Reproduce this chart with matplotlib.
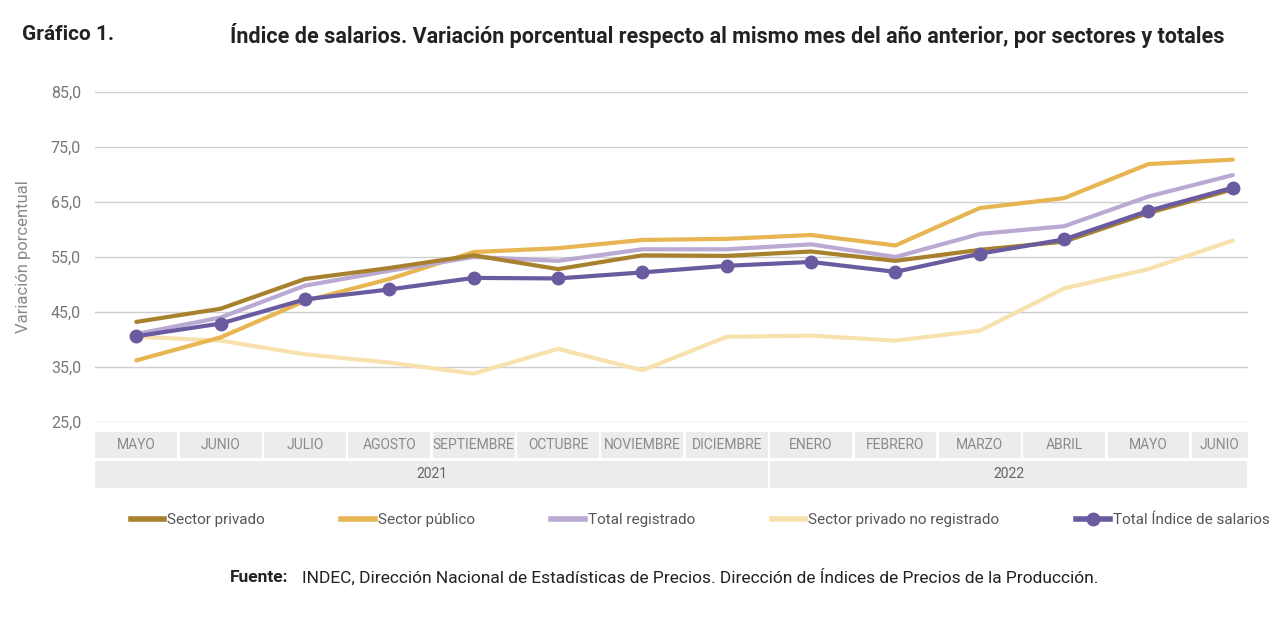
import matplotlib
matplotlib.use("Agg")
import matplotlib.pyplot as plt
from matplotlib.patches import Rectangle
from matplotlib.lines import Line2D

plt.rcParams['font.family'] = ['Roboto', 'DejaVu Sans']

months = ["MAYO","JUNIO","JULIO","AGOSTO","SEPTIEMBRE","OCTUBRE","NOVIEMBRE","DICIEMBRE",
          "ENERO","FEBRERO","MARZO","ABRIL","MAYO","JUNIO"]
years = ["2021", "2022"]
privado = [43.2,45.6,51.0,53.0,55.3,52.8,55.3,55.2,56.0,54.3,56.3,57.8,63.0,67.3]
publico = [36.2,40.4,47.0,51.0,55.9,56.6,58.1,58.3,59.0,57.1,63.9,65.7,71.9,72.7]
registrado = [41.0,44.0,49.8,52.5,55.0,54.3,56.4,56.4,57.3,55.0,59.2,60.6,66.0,69.9]
no_registrado = [40.5,39.8,37.3,35.8,33.8,38.3,34.4,40.5,40.7,39.8,41.6,49.3,52.8,58.0]
total = [40.6,42.9,47.3,49.1,51.2,51.1,52.2,53.4,54.1,52.3,55.6,58.2,63.4,67.6]

c_priv, c_pub, c_reg, c_nr, c_tot = "#a8812e", "#e7b552", "#b9a9d3", "#f7e2ad", "#6a5a9f"

fig = plt.figure(figsize=(12.8, 6.23), dpi=100)
ax = fig.add_axes([95/1280, 1-422/623, (1248-95)/1280, (422-92)/623])
x = list(range(len(months)))
XR = 13.18
ax.set_xlim(-0.49, XR)
ax.set_ylim(25, 85)
ax.set_yticks([25,35,45,55,65,75,85])
ax.set_yticklabels([f"{v},0" for v in [25,35,45,55,65,75,85]], color="#777777", fontsize=11.5)
ax.tick_params(axis='y', length=0, pad=10)
ax.set_xticks([])
ax.grid(axis='y', color="#cfcfcf", lw=1)
for s in ax.spines.values():
    s.set_visible(False)
ax.set_ylabel("Variación porcentual", color="#888888", fontsize=12, labelpad=14)

kw = dict(lw=3, clip_on=False, solid_capstyle='round')
ax.plot(x, no_registrado, color=c_nr, **kw)
ax.plot(x, publico, color=c_pub, **kw)
ax.plot(x, registrado, color=c_reg, **kw)
ax.plot(x, privado, color=c_priv, **kw)
ax.plot(x, total, color=c_tot, marker='o', ms=9, **kw)

tr = ax.get_xaxis_transform()
def ay(py):
    return (422 - py) / (422 - 92)
for i, m in enumerate(months):
    x0, x1 = i - 0.5 + 0.015, min(i + 0.5 - 0.015, XR)
    y0, y1 = ay(458), ay(432)
    ax.add_patch(Rectangle((x0, y0), x1 - x0, y1 - y0, transform=tr, color="#ececec", clip_on=False, lw=0))
    ax.text(min(i, (x0 + x1) / 2 + 0.0), (y0 + y1) / 2, m, transform=tr, ha='center', va='center',
            fontsize=10, color="#8a8a8a", clip_on=False)
for (a, b), yl in zip([(-0.5, 7.5), (7.5, XR)], years):
    x0, x1 = a + 0.015, b - 0.015
    y0, y1 = ay(488), ay(461)
    ax.add_patch(Rectangle((x0, y0), x1 - x0, y1 - y0, transform=tr, color="#ececec", clip_on=False, lw=0))
    ax.text((a + b) / 2, (y0 + y1) / 2, yl, transform=tr, ha='center', va='center', fontsize=10, color="#666666")

handles = [Line2D([], [], color=c_priv, lw=4), Line2D([], [], color=c_pub, lw=4),
           Line2D([], [], color=c_reg, lw=4), Line2D([], [], color=c_nr, lw=4),
           Line2D([], [], color=c_tot, lw=4, marker='o', ms=9)]
labels = ["Sector privado", "Sector público", "Total registrado", "Sector privado no registrado", "Total Índice de salarios"]
fig.legend(handles, labels, loc='center', bbox_to_anchor=(700/1280, 1-520/623), ncol=5, frameon=False,
           fontsize=11, handlelength=2.2, handletextpad=0.2, columnspacing=5.0, labelcolor="#555555")

fig.text(22/1280, 1-35/623, "Gráfico 1.", fontsize=15, fontweight='bold', va='center', color="#222222")
fig.text(230/1280, 1-35/623, "Índice de salarios. Variación porcentual respecto al mismo mes del año anterior, por sectores y totales",
         fontsize=15.5, fontweight='bold', va='center', color="#222222")
t = fig.text(230/1280, 1-577/623, "Fuente:", fontsize=12.5, fontweight='bold', va='center', color="#222222")
fig.text(302/1280, 1-577/623, "INDEC, Dirección Nacional de Estadísticas de Precios. Dirección de Índices de Precios de la Producción.",
         fontsize=12.5, va='center', color="#222222")

fig.savefig("out.png", dpi=100, facecolor="white")
